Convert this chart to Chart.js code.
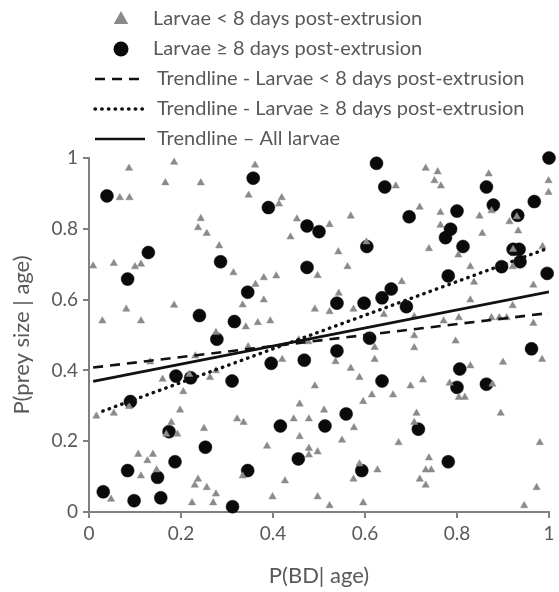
<!DOCTYPE html>
<html>
<head>
<meta charset="utf-8">
<script src="https://cdn.jsdelivr.net/npm/chart.js@4"></script>
<style>
  html, body { margin: 0; padding: 0; background: #ffffff; }
  #wrap { position: relative; width: 559px; height: 592px; }
</style>
</head>
<body>
<div id="wrap"><canvas id="c" width="559" height="592"></canvas></div>
<script>
// ---- data ----
const legendLabels = [
  'Larvae < 8 days post-extrusion',
  'Larvae \u2265 8 days post-extrusion',
  'Trendline - Larvae < 8 days post-extrusion',
  'Trendline - Larvae \u2265 8 days post-extrusion',
  'Trendline \u2013 All larvae'
];
const xTitle = 'P(BD| age)';
const yTitle = 'P(prey size | age)';

// Larvae < 8 days post-extrusion (triangles)
const youngX = [0.087,0.185,0.166,0.243,0.067,0.088,0.243,0.237,0.256,0.283,0.009,0.054,0.100,0.113,0.314,
  0.361,0.347,0.419,0.413,0.452,0.523,0.569,0.438,0.542,0.603,0.562,0.380,0.407,0.497,
  0.732,0.758,0.751,0.765,0.667,0.869,0.999,0.999,0.719,0.764,0.764,0.849,0.875,0.914,0.933,0.855,0.739,0.803,0.986,0.829,0.921,0.922,0.930,
  0.029,0.081,0.113,0.185,0.276,0.133,0.231,0.160,0.218,0.263,0.276,0.205,
  0.362,0.334,0.380,0.341,0.367,0.394,0.491,0.523,0.543,0.575,0.641,0.346,0.456,0.477,0.420,0.536,0.621,0.621,0.569,0.588,0.615,0.491,
  0.680,0.837,0.966,0.829,0.921,0.707,0.771,0.804,0.875,0.892,0.908,0.966,0.707,0.707,0.797,0.985,0.900,0.829,0.726,0.699,0.784,0.877,0.661,0.804,0.817,
  0.016,0.054,0.087,0.198,0.179,0.168,0.192,0.250,0.322,0.107,0.139,0.127,0.147,0.113,0.237,0.230,0.256,0.276,0.048,0.224,0.270,
  0.596,0.458,0.511,0.336,0.445,0.478,0.576,0.458,0.550,0.387,0.478,0.478,0.497,0.588,0.627,0.334,0.575,0.426,0.399,0.497,0.523,0.596,
  0.712,0.707,0.895,0.673,0.980,0.739,0.732,0.744,0.719,0.732,0.973,0.946];
const youngY = [0.971,0.988,0.930,0.930,0.888,0.888,0.829,0.803,0.787,0.752,0.695,0.702,0.693,0.700,0.676,
  0.980,0.895,0.888,0.870,0.828,0.812,0.836,0.777,0.735,0.763,0.693,0.662,0.667,0.668,
  0.971,0.961,0.936,0.921,0.921,0.955,0.936,0.903,0.861,0.846,0.810,0.836,0.851,0.820,0.794,0.787,0.744,0.726,0.750,0.693,0.693,0.742,0.834,
  0.540,0.573,0.540,0.584,0.507,0.424,0.441,0.375,0.389,0.380,0.399,0.340,
  0.643,0.585,0.599,0.523,0.535,0.540,0.573,0.566,0.618,0.573,0.558,0.467,0.486,0.481,0.431,0.425,0.465,0.431,0.406,0.380,0.331,0.356,
  0.651,0.649,0.641,0.599,0.583,0.552,0.540,0.549,0.549,0.549,0.549,0.533,0.498,0.464,0.483,0.431,0.423,0.413,0.373,0.356,0.364,0.361,0.331,0.324,0.324,
  0.271,0.279,0.298,0.288,0.253,0.220,0.220,0.236,0.263,0.163,0.163,0.145,0.119,0.102,0.093,0.076,0.069,0.051,0.036,0.026,0.026,
  0.312,0.305,0.288,0.253,0.263,0.263,0.238,0.213,0.203,0.186,0.180,0.161,0.170,0.136,0.119,0.102,0.093,0.088,0.043,0.043,0.018,0.026,
  0.279,0.253,0.279,0.196,0.196,0.153,0.119,0.119,0.093,0.076,0.069,0.018];

// Larvae >= 8 days post-extrusion (circles)
const oldX = [0.039,0.129,0.286,0.084,0.625,0.643,0.357,0.390,0.474,0.500,0.604,0.474,1.000,0.864,0.879,0.968,0.696,0.800,0.932,
  0.786,0.775,0.813,0.922,0.935,0.937,0.897,0.781,0.996,0.240,0.316,0.278,0.189,0.221,0.311,0.090,0.345,0.539,0.598,0.637,
  0.539,0.610,0.396,0.468,0.637,0.657,0.690,0.962,0.806,0.800,0.864,0.174,0.253,0.187,0.084,0.149,0.031,0.098,0.156,0.312,
  0.559,0.416,0.513,0.455,0.345,0.593,0.716,0.781];
const oldY = [0.893,0.733,0.707,0.658,0.985,0.918,0.943,0.860,0.808,0.792,0.750,0.691,1.000,0.918,0.867,0.877,0.834,0.850,0.838,
  0.799,0.775,0.750,0.742,0.742,0.707,0.693,0.667,0.674,0.555,0.538,0.488,0.384,0.379,0.370,0.312,0.621,0.590,0.590,0.605,
  0.455,0.491,0.420,0.429,0.370,0.630,0.580,0.461,0.404,0.352,0.361,0.227,0.183,0.142,0.117,0.098,0.057,0.032,0.040,0.015,
  0.277,0.243,0.243,0.150,0.117,0.117,0.234,0.142];

// Trendline end points
const trendYoungX = [0.009, 1.0];
const trendYoungY = [0.408, 0.562];
const trendOldX = [0.03, 1.0];
const trendOldY = [0.285, 0.746];
const trendAllX = [0.009, 1.0];
const trendAllY = [0.369, 0.622];

const xTicks = [0, 0.2, 0.4, 0.6, 0.8, 1];
const yTicks = [0, 0.2, 0.4, 0.6, 0.8, 1];
const tickText = ['0', '0.2', '0.4', '0.6', '0.8', '1'];

// ---- build ----
const pts = (xs, ys) => xs.map((x, i) => ({x: x, y: ys[i]}));
const TEXT = '#595959';
const AXIS = '#808080';
const TRI = '#8a8a8a';
const FONT = 'Lato';

const legendPlugin = {
  id: 'customLegend',
  afterDraw(chart) {
    const ctx = chart.ctx;
    const ds = chart.data.datasets;
    const rows = [19, 49, 79, 109, 139];
    ctx.save();
    ctx.font = '20px ' + FONT;
    ctx.fillStyle = TEXT;
    ctx.textBaseline = 'middle';
    ctx.textAlign = 'left';
    ds.forEach((d, i) => {
      const y = rows[i];
      const isLine = d.showLine;
      if (!isLine) {
        ctx.save();
        ctx.fillStyle = d.backgroundColor;
        ctx.beginPath();
        if (d.pointStyle === 'triangle') {
          const r = 8;
          ctx.moveTo(121, y - r);
          ctx.lineTo(121 + r * Math.sin(Math.PI / 3) * 1.05, y + r / 2 + 1);
          ctx.lineTo(121 - r * Math.sin(Math.PI / 3) * 1.05, y + r / 2 + 1);
          ctx.closePath();
        } else {
          ctx.arc(121, y, 7.5, 0, Math.PI * 2);
        }
        ctx.fill();
        ctx.restore();
        ctx.fillText(d.label, 153, y);
      } else {
        ctx.save();
        ctx.strokeStyle = d.borderColor;
        ctx.lineWidth = d.borderWidth;
        ctx.setLineDash(d.borderDash || []);
        ctx.lineCap = d.borderCapStyle || 'butt';
        ctx.beginPath();
        ctx.moveTo(95, y);
        ctx.lineTo(145, y);
        ctx.stroke();
        ctx.restore();
        ctx.fillText(d.label, 157, y);
      }
    });
    ctx.restore();
  }
};

const fmtTick = (v) => {
  const i = xTicks.findIndex(t => Math.abs(t - v) < 1e-9);
  return i >= 0 ? tickText[i] : '';
};

new Chart(document.getElementById('c'), {
  type: 'scatter',
  data: {
    datasets: [
      {
        label: legendLabels[0],
        data: pts(youngX, youngY),
        pointStyle: 'triangle',
        pointRadius: 4.2,
        pointHoverRadius: 4.2,
        backgroundColor: TRI,
        borderColor: TRI,
        borderWidth: 0.5,
        clip: false,
        order: 1
      },
      {
        label: legendLabels[1],
        data: pts(oldX, oldY),
        pointStyle: 'circle',
        pointRadius: 6.5,
        pointHoverRadius: 6.5,
        backgroundColor: '#0a0a0a',
        borderColor: '#0a0a0a',
        borderWidth: 0.5,
        clip: false,
        order: 2
      },
      {
        type: 'line',
        label: legendLabels[2],
        data: pts(trendYoungX, trendYoungY),
        showLine: true,
        pointRadius: 0,
        borderColor: '#111111',
        borderWidth: 2.6,
        borderDash: [10, 7],
        fill: false,
        order: 0
      },
      {
        type: 'line',
        label: legendLabels[3],
        data: pts(trendOldX, trendOldY),
        showLine: true,
        pointRadius: 0,
        borderColor: '#111111',
        borderWidth: 3.4,
        borderDash: [0.5, 6.2],
        borderCapStyle: 'round',
        fill: false,
        order: 0
      },
      {
        type: 'line',
        label: legendLabels[4],
        data: pts(trendAllX, trendAllY),
        showLine: true,
        pointRadius: 0,
        borderColor: '#111111',
        borderWidth: 2.6,
        fill: false,
        order: 0
      }
    ]
  },
  options: {
    responsive: false,
    animation: false,
    devicePixelRatio: 1,
    layout: { padding: { top: 158, right: 10, left: 0, bottom: 0 } },
    plugins: {
      legend: { display: false },
      tooltip: { enabled: false }
    },
    scales: {
      x: {
        type: 'linear',
        min: 0, max: 1,
        afterFit(scale) { scale.height = 80; },
        afterBuildTicks(scale) { scale.ticks = xTicks.map(v => ({value: v})); },
        grid: { display: true, drawOnChartArea: false, drawTicks: true, tickLength: 6, color: AXIS, lineWidth: 2 },
        border: { display: true, color: AXIS, width: 2 },
        ticks: { color: TEXT, font: { family: FONT, size: 19 }, padding: 4, callback: fmtTick },
        title: { display: true, text: xTitle, color: TEXT, font: { family: FONT, size: 22 }, padding: { top: 2, bottom: 3 } }
      },
      y: {
        type: 'linear',
        min: 0, max: 1,
        afterFit(scale) { scale.width = 89; },
        afterBuildTicks(scale) { scale.ticks = yTicks.map(v => ({value: v})); },
        grid: { display: true, drawOnChartArea: false, drawTicks: true, tickLength: 6, color: AXIS, lineWidth: 2 },
        border: { display: true, color: AXIS, width: 2 },
        ticks: { color: TEXT, font: { family: FONT, size: 19 }, padding: 5, callback: fmtTick },
        title: { display: true, text: yTitle, color: TEXT, font: { family: FONT, size: 22 }, padding: { top: 9, bottom: 0 } }
      }
    }
  },
  plugins: [legendPlugin]
});
</script>
</body>
</html>
